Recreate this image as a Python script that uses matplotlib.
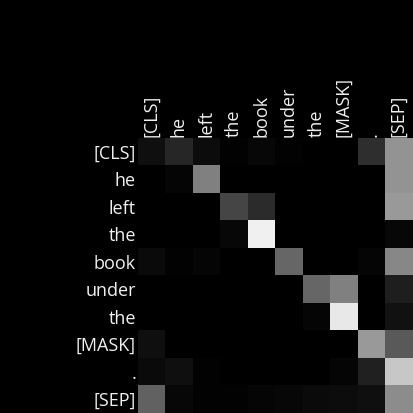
import matplotlib
matplotlib.use("Agg")
import matplotlib.pyplot as plt
import numpy as np

tokens = ["[CLS]", "he", "left", "the", "book", "under", "the", "[MASK]", ".", "[SEP]"]

row_cls   = [0.06, 0.15, 0.05, 0.01, 0.03, 0.01, 0.00, 0.00, 0.18, 0.58]
row_he    = [0.00, 0.02, 0.50, 0.00, 0.00, 0.00, 0.00, 0.00, 0.00, 0.58]
row_left  = [0.00, 0.00, 0.00, 0.27, 0.17, 0.00, 0.00, 0.00, 0.00, 0.60]
row_the1  = [0.00, 0.00, 0.00, 0.03, 0.94, 0.00, 0.00, 0.00, 0.00, 0.03]
row_book  = [0.04, 0.01, 0.02, 0.00, 0.00, 0.40, 0.00, 0.00, 0.02, 0.53]
row_under = [0.00, 0.00, 0.00, 0.00, 0.00, 0.00, 0.40, 0.50, 0.00, 0.12]
row_the2  = [0.00, 0.00, 0.00, 0.00, 0.00, 0.00, 0.02, 0.91, 0.00, 0.07]
row_mask  = [0.06, 0.00, 0.00, 0.00, 0.00, 0.00, 0.00, 0.00, 0.60, 0.35]
row_dot   = [0.04, 0.06, 0.01, 0.00, 0.00, 0.00, 0.00, 0.02, 0.13, 0.78]
row_sep   = [0.38, 0.03, 0.01, 0.01, 0.02, 0.03, 0.04, 0.05, 0.06, 0.55]

attn = np.array([row_cls, row_he, row_left, row_the1, row_book,
                 row_under, row_the2, row_mask, row_dot, row_sep])

plt.rcParams['font.family'] = ['Open Sans', 'DejaVu Sans']

fig = plt.figure(figsize=(4.13, 4.13), dpi=100, facecolor='black')
ax = fig.add_axes([137.5 / 413, 0.0, 275 / 413, 275 / 413])
ax.set_facecolor('black')
ax.imshow(attn, cmap='gray', vmin=0, vmax=1, aspect='auto', interpolation='nearest')

ax.set_xticks(range(len(tokens)))
ax.set_xticklabels(tokens, rotation=90, fontsize=13, color='#f0f0f0')
ax.set_yticks(range(len(tokens)))
ax.set_yticklabels(tokens, fontsize=13, color='#f0f0f0')
ax.xaxis.tick_top()
ax.tick_params(length=0, pad=1)
for s in ax.spines.values():
    s.set_visible(False)

fig.savefig("out.png", dpi=100, facecolor='black')
